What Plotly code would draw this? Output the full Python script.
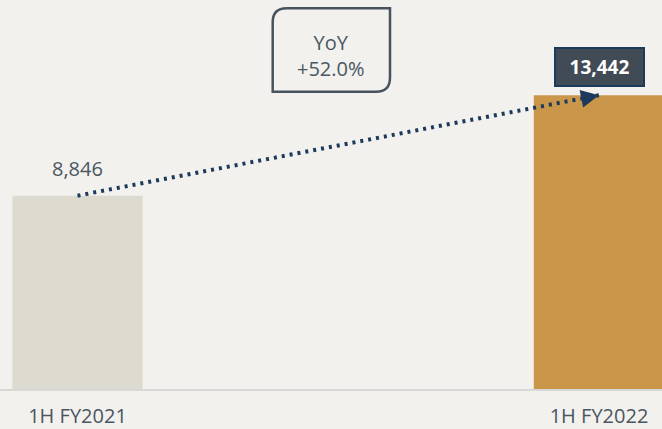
import plotly.graph_objects as go

# Half-year figures
periods = ["1H FY2021", "1H FY2022"]
values = [8846, 13442]
yoy_label = "YoY<br>+52.0%"

bg = "#f2f1ee"
bar_colors = ["#dddbcf", "#c9964a"]
text_color = "#4b5661"
navy = "#1c3a5c"
font_family = "Open Sans"

fig = go.Figure()

fig.add_trace(go.Bar(
    x=periods, y=values, width=0.25,
    marker=dict(color=bar_colors, line=dict(width=0)),
    hoverinfo="skip",
))

# Dotted growth line joining the two bar tops
fig.add_trace(go.Scatter(
    x=periods, y=values, mode="lines",
    line=dict(color=navy, width=4, dash="3px,5px"),
    hoverinfo="skip",
))

annotations = []
# Arrowhead at the end of the growth line
annotations.append(dict(
    x=periods[1], y=values[1], xref="x", yref="y",
    text="", showarrow=True, arrowhead=2, arrowsize=1.2, arrowwidth=3,
    arrowcolor=navy, ax=-15, ay=3,
))
# Value label for the first period
annotations.append(dict(
    x=periods[0], y=values[0], xref="x", yref="y",
    text=f"{values[0]:,}", showarrow=False, yanchor="bottom", yshift=12,
    font=dict(family=font_family, size=20, color=text_color),
))
# Highlighted value label for the second period
annotations.append(dict(
    x=periods[1], y=values[1], xref="x", yref="y",
    text=f"<b>{values[1]:,}</b>", showarrow=False, yanchor="bottom", yshift=8,
    font=dict(family=font_family, size=19, color="white"),
    bgcolor="#404b55", bordercolor=navy, borderwidth=2,
    width=85, height=34,
))
# Year-over-year callout text
annotations.append(dict(
    x=0.5, y=1 - 56 / 389, xref="paper", yref="paper",
    text=yoy_label, showarrow=False, xanchor="center", yanchor="middle",
    font=dict(family=font_family, size=20, color=text_color),
))

# Callout frame with rounded top-left and bottom-right corners
x0, x1 = 272.7 / 662, 390 / 662
y1, y0 = 1 - 8.3 / 389, 1 - 91.7 / 389
rx, ry = 14 / 662, 14 / 389
path = (
    f"M {x0},{y1 - ry} Q {x0},{y1} {x0 + rx},{y1} "
    f"L {x1},{y1} L {x1},{y0 + ry} Q {x1},{y0} {x1 - rx},{y0} "
    f"L {x0},{y0} Z"
)

fig.update_layout(
    width=662, height=429,
    margin=dict(l=0, r=0, t=0, b=40, autoexpand=False),
    paper_bgcolor=bg, plot_bgcolor=bg,
    showlegend=False,
    annotations=annotations,
    shapes=[dict(type="path", path=path, xref="paper", yref="paper",
                 line=dict(color="#47545e", width=2.5), fillcolor="rgba(0,0,0,0)")],
    xaxis=dict(
        type="category", range=[-0.1486, 1.1208],
        showgrid=False, zeroline=False, automargin=False,
        showline=True, linecolor="#d8d8d6", linewidth=2,
        ticks="", ticklabelstandoff=8,
        tickfont=dict(family=font_family, size=20, color=text_color),
        fixedrange=True,
    ),
    yaxis=dict(
        range=[0, 17800], visible=False, showgrid=False, zeroline=False,
        automargin=False, fixedrange=True,
    ),
)

fig.write_html("out.html", config={"displayModeBar": False})
